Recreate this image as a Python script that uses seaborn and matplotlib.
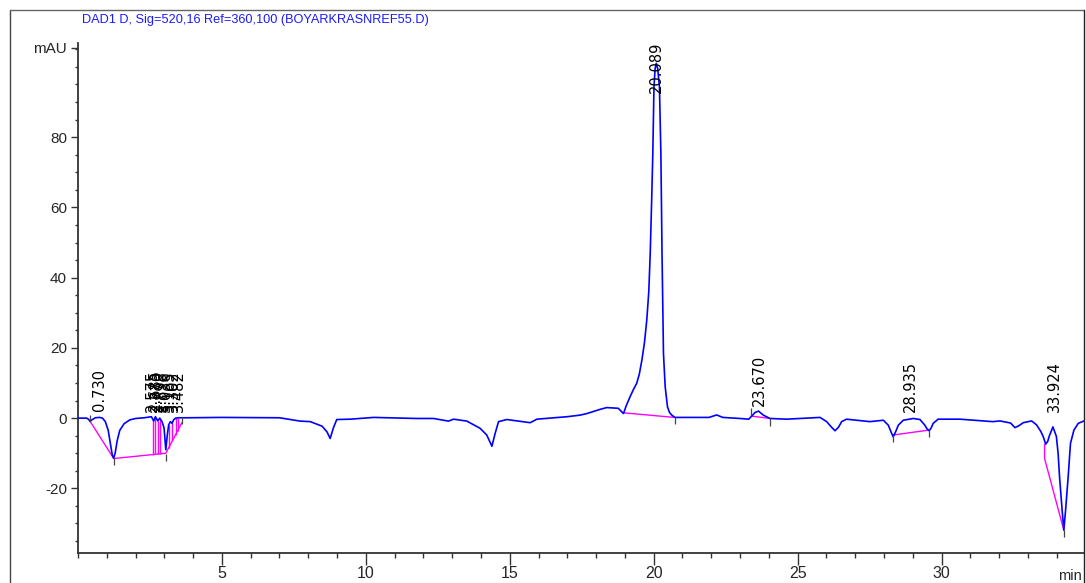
import numpy as np
import matplotlib.pyplot as plt
import seaborn as sns
from matplotlib.lines import Line2D
from matplotlib.ticker import MultipleLocator, FixedLocator

sns.set_style("ticks")
narrow = ['Liberation Sans Narrow', 'Liberation Sans', 'DejaVu Sans']
plt.rcParams['font.family'] = narrow

# detector trace (min, mAU)
time_min = [0.00, 0.30, 0.36, 0.42, 0.50, 0.60, 0.75, 0.85, 0.95, 1.05, 1.13, 1.19, 1.24,
            1.29, 1.36, 1.45, 1.60, 1.80, 2.00, 2.30, 2.55, 2.63, 2.69, 2.77, 2.84, 2.92,
            2.99, 3.05, 3.10, 3.15, 3.21, 3.27, 3.32, 3.39, 3.50, 3.80, 5.00, 7.00, 7.72,
            8.07, 8.48, 8.65, 8.76, 8.88, 8.99, 9.46, 10.27, 11.77, 12.35, 12.87, 13.05,
            13.51, 13.97, 14.20, 14.38, 14.49, 14.61, 14.90, 15.71, 15.94, 16.99, 17.44,
            17.68, 18.14, 18.37, 18.77, 18.95, 19.05, 19.18, 19.30, 19.41, 19.50, 19.59,
            19.68, 19.76, 19.83, 19.88, 19.93, 19.97, 20.01, 20.05, 20.09, 20.14, 20.20,
            20.25, 20.29, 20.34, 20.40, 20.48, 20.55, 20.63, 20.74, 21.00, 21.92, 22.19,
            22.40, 23.00, 23.30, 23.41, 23.52, 23.64, 23.81, 24.04, 24.62, 25.78, 26.01,
            26.18, 26.30, 26.42, 26.53, 26.70, 27.51, 27.98, 28.15, 28.26, 28.32, 28.40,
            28.50, 28.67, 29.02, 29.25, 29.42, 29.50, 29.57, 29.64, 29.71, 29.88, 30.64,
            31.43, 31.78, 32.03, 32.40, 32.55, 32.68, 32.84, 33.13, 33.30, 33.45, 33.53,
            33.62, 33.69, 33.74, 33.87, 33.99, 34.05, 34.10, 34.19, 34.25, 34.31, 34.40,
            34.48, 34.60, 34.75, 34.95]
signal_mau = [0.0, 0.0, -0.3, -0.9, -0.4, 0.1, 0.2, 0.0, -1.0, -3.5, -7.5, -10.5, -11.4,
              -10.0, -6.5, -3.5, -1.6, -0.5, -0.1, 0.1, 0.4, -0.8, 0.4, -0.8, 0.0, -1.0,
              -2.8, -9.0, -5.0, -1.9, -1.0, -1.5, -0.5, 0.0, 0.1, 0.1, 0.2, 0.1, -0.85,
              -1.0, -2.3, -3.9, -5.8, -2.6, -0.4, -0.3, 0.2, -0.1, -0.1, -0.85, -0.3,
              -0.85, -2.9, -4.8, -8.0, -4.4, -1.0, -0.4, -1.3, -0.3, 0.4, 0.85,
              1.3, 2.5, 3.0, 2.8, 1.3, 3.6, 6.1, 8.2, 9.9, 12.5, 16.5,
              21.5, 27.9, 36.0, 46.9, 62.0, 75.4, 94.3, 99.5, 101.0, 99.5, 94.3,
              75.4, 46.9, 18.4, 8.9, 3.2, 1.6, 0.85, 0.2, 0.2, 0.2, 0.9,
              0.2, -0.1, -0.3, 0.6, 1.6, 2.0, 0.85, -0.1, -0.3, 0.2, -1.0,
              -2.6, -3.6, -2.6, -1.0, -0.3, -1.0, -0.6, -2.0, -4.2, -5.3, -4.0,
              -2.0, -0.6, -0.1, -0.4, -2.0, -3.1, -3.6, -2.8, -1.5, -0.3, -0.3,
              -0.8, -1.0, -0.8, -1.4, -2.7, -2.2, -1.3, -0.8, -1.9, -3.8, -5.2,
              -7.4, -6.6, -5.2, -2.5, -5.2, -10.0, -16.7, -26.2, -31.9, -26.2, -16.7,
              -7.2, -3.4, -1.5, -0.8]

# retention time labels
peak_rt = [0.730, 2.575, 2.685, 2.770, 2.898, 3.036, 3.165, 3.302, 3.482,
           20.089, 23.670, 28.935, 33.924]
peak_text = ['0.730', '2.575', '2.685', '2.770', '2.898', '3.036', '3.165', '3.302', '3.482',
             '20.089', '23.670', '28.935', '33.924']

# integration baselines (magenta)
base_early_t = [0.42, 1.24, 3.05, 3.61]
base_early_v = [-0.9, -11.5, -10.0, -1.3]
base_main_t = [18.97, 20.72]
base_main_v = [1.5, 0.2]
base_23_t = [23.38, 24.04]
base_23_v = [0.6, -0.1]
base_28_t = [28.32, 29.57]
base_28_v = [-4.8, -3.4]
base_33_t = [33.58, 33.58, 34.25]
base_33_v = [-7.4, -11.5, -31.9]
drop_t = [2.61, 2.69, 2.77, 2.86, 3.15, 3.27, 3.39, 3.46]

# peak start / end marks
event_t = [0.42, 1.24, 3.05, 3.61, 20.74, 23.38, 24.04, 28.32, 29.57, 34.25]
event_v = [1.0, -11.4, -10.3, 0.4, 0.2, 2.8, -0.1, -4.8, -3.4, -31.9]

fig = plt.figure(figsize=(10.86, 5.83), dpi=100)
ax = fig.add_axes([78 / 1086, 30 / 583, 1006 / 1086, 510 / 583])

sns.lineplot(x=time_min, y=signal_mau, ax=ax, color='#0000ff', linewidth=1.2,
             estimator=None, sort=False, zorder=3)

magenta = '#ff00ff'
for bt, bv in [(base_early_t, base_early_v), (base_main_t, base_main_v),
               (base_23_t, base_23_v), (base_28_t, base_28_v), (base_33_t, base_33_v)]:
    ax.plot(bt, bv, color=magenta, lw=1.0, zorder=2)

drop_top = np.interp(drop_t, time_min, signal_mau)
drop_bot = np.interp(drop_t, base_early_t, base_early_v)
ax.vlines(drop_t, drop_bot, drop_top, color=magenta, lw=1.0, zorder=2)

ax.vlines(event_t, np.array(event_v) - 2.0, event_v, color='#444444', lw=0.9, zorder=4)

for rt, txt in zip(peak_rt, peak_text):
    yv = max(float(np.interp(rt, time_min, signal_mau)), 0.0)
    yv = min(yv, 90.8)
    ax.annotate(txt, (rt, yv), xytext=(0, 4.3), textcoords='offset points',
                rotation=90, ha='center', va='bottom', fontsize=10.5,
                family='DejaVu Sans', color='black', annotation_clip=False)

ax.set_xlim(0, 34.95)
ax.set_ylim(-38.4, 106.8)

ax.xaxis.set_major_locator(FixedLocator([5, 10, 15, 20, 25, 30]))
ax.xaxis.set_minor_locator(MultipleLocator(1))
ax.yaxis.set_major_locator(FixedLocator([-20, 0, 20, 40, 60, 80, 105.5]))
ax.set_yticklabels(['-20', '0', '20', '40', '60', '80', 'mAU'])
ax.yaxis.set_minor_locator(MultipleLocator(5))

ax.tick_params(axis='x', which='major', direction='out', length=8.5, width=1.0,
               pad=1, labelsize=11.5, color='#333333')
ax.tick_params(axis='x', which='minor', direction='out', length=3.6, width=1.0,
               color='#333333')
ax.tick_params(axis='y', which='major', direction='out', length=5, width=1.0,
               pad=3, labelsize=11, color='#333333')
ax.tick_params(axis='y', which='minor', direction='out', length=2.5, width=1.0,
               color='#333333')

for side in ['top', 'right']:
    ax.spines[side].set_visible(False)
for side in ['left', 'bottom']:
    ax.spines[side].set_color('#333333')
    ax.spines[side].set_linewidth(1.3)

fig.text(1070 / 1086, 1 - 576 / 583, 'min', ha='center', va='center', fontsize=10.5)
fig.text(82 / 1086, 1 - 20 / 583, 'DAD1 D, Sig=520,16 Ref=360,100 (BOYARKRASNREF55.D)',
         ha='left', va='center', fontsize=9.2, color='#1a1aff')

# outer frame
fig.add_artist(Line2D([10 / 1086, 10 / 1086], [0, 1 - 10 / 583], transform=fig.transFigure,
                      color='#444444', lw=1.0))
fig.add_artist(Line2D([10 / 1086, 1084 / 1086], [1 - 10 / 583, 1 - 10 / 583],
                      transform=fig.transFigure, color='#666666', lw=1.0))
fig.add_artist(Line2D([1084 / 1086, 1084 / 1086], [0, 1 - 10 / 583], transform=fig.transFigure,
                      color='#222222', lw=1.0))

fig.savefig('out.png', dpi=100)
